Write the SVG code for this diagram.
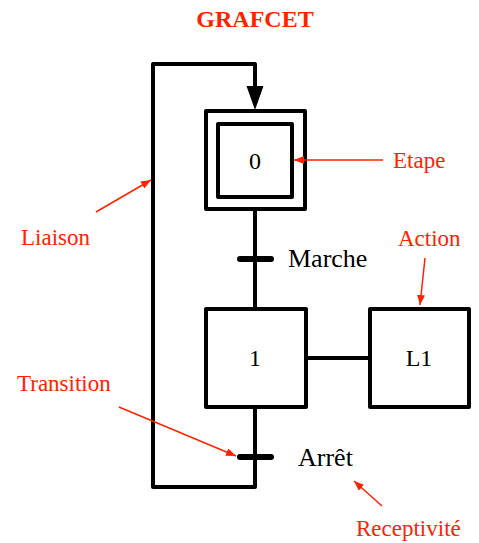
<svg xmlns="http://www.w3.org/2000/svg" width="479" height="543" viewBox="0 0 479 543">
<style>
.blk{fill:none;stroke:#000;stroke-width:4;stroke-linejoin:round}
.bar{stroke:#000;stroke-width:6;stroke-linecap:round}
.ann{stroke:#ff2200;stroke-width:1.5;fill:none}
.t{font-family:"Liberation Serif","Times New Roman",serif;fill:#000}
.r{font-family:"Liberation Serif","Times New Roman",serif;fill:#ff2200;font-size:23px}
</style>
<defs>
<marker id="ra" viewBox="0 0 10 8" refX="10" refY="4" markerWidth="10" markerHeight="8" markerUnits="userSpaceOnUse" orient="auto">
<path d="M0,0 L10,4 L0,8 z" fill="#ff2200"/>
</marker>
</defs>
<rect width="479" height="543" fill="#fff"/>
<text x="255" y="27" text-anchor="middle" font-weight="bold" class="r" style="font-size:24px">GRAFCET</text>
<g id="connectors">
<polyline class="blk" points="255,210 255,308"/>
<polyline class="blk" points="255,407 255,487 153,487 153,64 255,64 255,90"/>
<polygon points="246.5,86 263.5,86 255,110" fill="#000"/>
<line class="blk" x1="306" y1="358" x2="370" y2="358"/>
</g>
<g id="step0">
<rect class="blk" x="206" y="111" width="99" height="98"/>
<rect class="blk" x="218" y="124" width="74" height="73"/>
<text class="t" x="255" y="169" text-anchor="middle" font-size="24">0</text>
</g>
<g id="transition-marche">
<line class="bar" x1="240" y1="259" x2="271" y2="259"/>
<text class="t" x="288" y="267" font-size="26">Marche</text>
</g>
<g id="step1">
<rect class="blk" x="206" y="309" width="100" height="98"/>
<text class="t" x="255" y="366" text-anchor="middle" font-size="24">1</text>
</g>
<g id="action-L1">
<rect class="blk" x="370" y="309" width="99" height="98"/>
<text class="t" x="419" y="366" text-anchor="middle" font-size="24">L1</text>
</g>
<g id="transition-arret">
<line class="bar" x1="240" y1="457" x2="271" y2="457"/>
<text class="t" x="298" y="466" font-size="26">Arrêt</text>
</g>
<g id="annotations">
<line class="ann" x1="383" y1="160" x2="294" y2="160" marker-end="url(#ra)"/>
<text class="r" x="393" y="168">Etape</text>
<line class="ann" x1="96" y1="212" x2="151" y2="180" marker-end="url(#ra)"/>
<text class="r" x="21" y="245">Liaison</text>
<line class="ann" x1="425" y1="258" x2="420" y2="305" marker-end="url(#ra)"/>
<text class="r" x="398" y="246">Action</text>
<line class="ann" x1="119" y1="407" x2="236" y2="456" marker-end="url(#ra)"/>
<text class="r" x="17" y="391">Transition</text>
<line class="ann" x1="382" y1="506" x2="354" y2="481" marker-end="url(#ra)"/>
<text class="r" x="356" y="536">Receptivité</text>
</g>
</svg>
